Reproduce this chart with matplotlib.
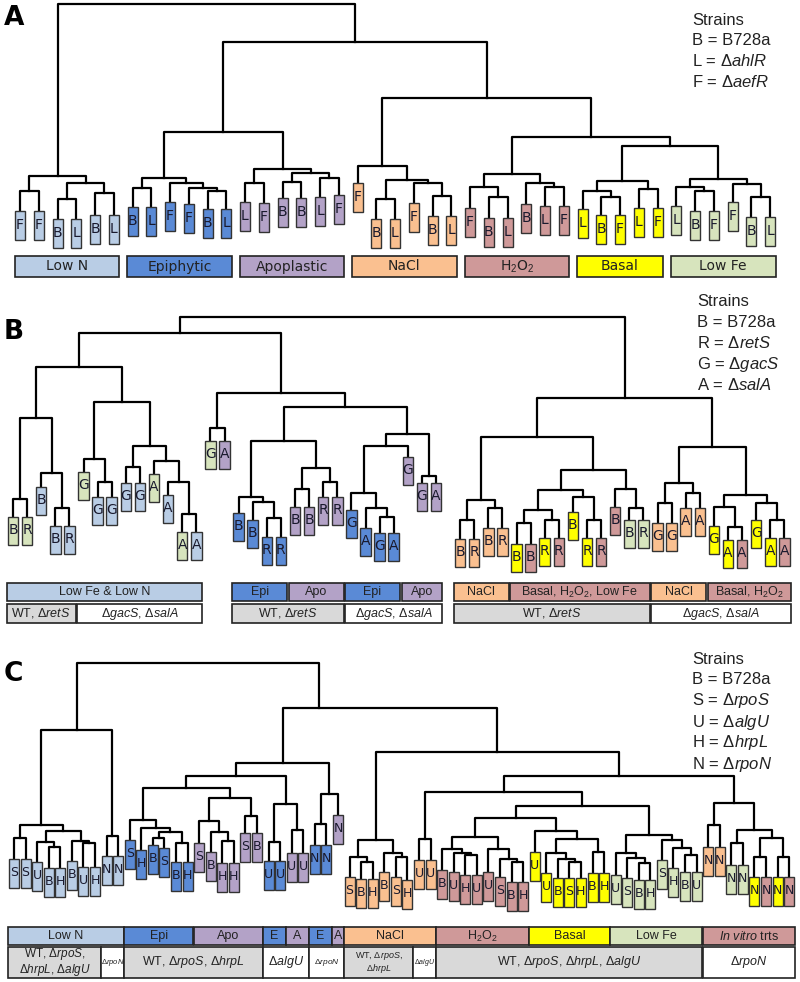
import matplotlib.pyplot as plt
from matplotlib.patches import Rectangle

plt.rcParams['mathtext.fontset'] = 'custom'
plt.rcParams['mathtext.rm'] = 'Liberation Sans'
plt.rcParams['mathtext.it'] = 'Liberation Sans:italic'

# condition colours (leaf boxes and label bars)
colors = {'n': '#B9CDE5', 'e': '#5A8AD6', 'a': '#B3A2C7', 's': '#FAC090',
          'h': '#CF9999', 'b': '#FFFF00', 'f': '#D7E4BD', 'g': '#D9D9D9', 'w': '#FFFFFF'}

# ---- panel A : node = (merge height, left, right), leaf = (strain, condition, leaf height)
a_low_n = (176, (191, ('F', 'n', 211), ('F', 'n', 211)),
           (183, (199, ('B', 'n', 219), ('L', 'n', 219)), (193, ('B', 'n', 215), ('L', 'n', 215))))
a_epi = (178, (188, ('B', 'e', 207), ('L', 'e', 207)),
         (183, ('F', 'e', 202), (188, ('F', 'e', 204), (191, ('B', 'e', 209), ('L', 'e', 209)))))
a_apo = (169, (183, ('L', 'a', 202), ('F', 'a', 203)),
         (173, (182, ('B', 'a', 198), ('B', 'a', 198)), (178, ('L', 'a', 197), ('F', 'a', 195))))
a_nacl = (166, ('F', 's', 183),
          (180, (199, ('B', 's', 219), ('L', 's', 219)),
           (183, ('F', 's', 203), (196, ('B', 's', 216), ('L', 's', 216)))))
a_h2o2 = (174, (187, ('F', 'h', 208), (197, ('B', 'h', 218), ('L', 'h', 218))),
          (183, ('B', 'h', 204), (187, ('L', 'h', 206), ('F', 'h', 206))))
a_basal = (181, (191, ('L', 'b', 209), (197, ('B', 'b', 215), ('F', 'b', 215))),
           (189, ('L', 'b', 208), ('F', 'b', 208)))
a_low_fe = (179, (187, ('L', 'f', 206), (191, ('B', 'f', 211), ('F', 'f', 211))),
            (184, ('F', 'f', 202), (197, ('B', 'f', 217), ('L', 'f', 217))))
tree_a = (4, a_low_n, (42, (132, a_epi, a_apo),
                       (98, a_nacl, (137, a_h2o2, (146, a_basal, a_low_fe)))))
a_bars = [(0, 5, 'Low N', 'n'), (6, 11, 'Epiphytic', 'e'), (12, 17, 'Apoplastic', 'a'),
          (18, 23, 'NaCl', 's'), (24, 29, 'H$_2$O$_2$', 'h'), (30, 34, 'Basal', 'b'),
          (35, 40, 'Low Fe', 'f')]
a_strains = ['Strains', 'B = B728a', r'L = $\mathit{\Delta ahlR}$', r'F = $\mathit{\Delta aefR}$']

# ---- panel B
b_fe_n = (367,
          (418, (499, ('B', 'f', 517), ('R', 'f', 517)),
           (473, ('B', 'n', 487), (508, ('B', 'n', 526), ('R', 'n', 526)))),
          (402, (459, ('G', 'f', 472), (482, ('G', 'n', 497), ('G', 'n', 497))),
           (446, (467, ('G', 'n', 483), ('G', 'n', 483)),
            (461, ('A', 'f', 474), (482, ('A', 'n', 495), (514, ('A', 'f', 532), ('A', 'n', 532)))))))
b_ga = (428, ('G', 'f', 441), ('A', 'a', 441))
b_wt_plant = (441, (497, ('B', 'e', 513), (502, ('B', 'e', 520), (518, ('R', 'e', 537), ('R', 'e', 537)))),
              (468, (489, ('B', 'a', 507), ('B', 'a', 507)), (482, ('R', 'a', 497), ('R', 'a', 497))))
b_mut_plant = (434, (446, (493, ('G', 'e', 510), (508, ('A', 'e', 528), (517, ('G', 'e', 533), ('A', 'e', 533)))),
                     ('G', 'a', 457)),
               (476, ('G', 'a', 483), ('A', 'a', 483)))
b_wt_vitro = (437, (500, (520, ('B', 's', 539), ('R', 's', 539)), (508, ('B', 's', 528), ('R', 's', 528))),
              (470, (490, (510, (523, ('B', 'b', 544), ('B', 'h', 544)), (520, ('R', 'b', 538), ('R', 'h', 538))),
                     (497, ('B', 'b', 512), (520, ('R', 'b', 538), ('R', 'h', 538)))),
               (489, ('B', 'h', 507), (508, ('B', 'f', 520), ('R', 'f', 520)))))
b_mut_vitro = (447, (483, (503, ('G', 's', 523), ('G', 's', 523)), (493, ('A', 's', 508), ('A', 's', 508))),
               (495, (507, ('G', 'b', 526), (527, ('A', 'b', 540), ('A', 'h', 540))),
                (503, ('G', 'b', 520), (520, ('A', 'b', 538), ('A', 'h', 538)))))
tree_b = (317, (333, b_fe_n, (393, b_ga, (407, b_wt_plant, b_mut_plant))),
          (398, b_wt_vitro, b_mut_vitro))
b_row1 = [(0, 13, 'Low Fe & Low N', 'n'), (16, 19, 'Epi', 'e'), (20, 23, 'Apo', 'a'),
          (24, 27, 'Epi', 'e'), (28, 30, 'Apo', 'a'), (31, 34, 'NaCl', 's'),
          (35, 44, 'Basal, H$_2$O$_2$, Low Fe', 'h'), (45, 48, 'NaCl', 's'),
          (49, 54, 'Basal, H$_2$O$_2$', 'h')]
b_wt = r'WT, $\mathit{\Delta retS}$'
b_mut = r'$\mathit{\Delta gacS}$, $\mathit{\Delta salA}$'
b_row2 = [(0, 4, b_wt, 'g'), (5, 13, b_mut, 'w'), (16, 23, b_wt, 'g'), (24, 30, b_mut, 'w'),
          (31, 44, b_wt, 'g'), (45, 54, b_mut, 'w')]
b_strains = ['Strains', 'B = B728a', r'R = $\mathit{\Delta retS}$', r'G = $\mathit{\Delta gacS}$',
             r'A = $\mathit{\Delta salA}$']

# ---- panel C
c_low_n = (825, (838, ('S', 'n', 859), ('S', 'n', 859)),
           (831, (842, ('U', 'n', 862), (847, ('B', 'n', 868), ('H', 'n', 868))),
            (841, ('B', 'n', 861), (843, ('U', 'n', 867), ('H', 'n', 867)))))
c_rpon_n = (836, ('N', 'n', 856), ('N', 'n', 856))
c_epi = (820, ('S', 'e', 840), (828, ('H', 'e', 850),
                                 (832, (838, ('B', 'e', 845), ('S', 'e', 848)),
                                  (843, ('B', 'e', 862), ('H', 'e', 862)))))
c_apo = (798, (821, ('S', 'a', 843), (832, ('B', 'a', 852), (841, ('H', 'a', 863), ('H', 'a', 863)))),
         (816, ('S', 'a', 833), ('B', 'a', 833)))
c_algu_plant = (804, (842, ('U', 'e', 861), ('U', 'e', 861)), (830, ('U', 'a', 853), ('U', 'a', 853)))
c_rpon_plant = (794, (824, ('N', 'e', 845), ('N', 'e', 845)), ('N', 'a', 815))
c_nacl = (840, (857, ('S', 's', 877), (862, ('B', 's', 879), ('H', 's', 879))),
          (853, ('B', 's', 872), (857, ('S', 's', 877), ('H', 's', 880))))
c_algu_nacl = (839, ('U', 's', 860), ('U', 's', 860))
c_h2o2 = (837, (849, ('B', 'h', 870), (853, ('U', 'h', 872), (855, ('H', 'h', 875), ('U', 'h', 875)))),
          (849, ('U', 'h', 872), (859, ('S', 'h', 877), (862, ('B', 'h', 882), ('H', 'h', 882)))))
c_basal = (831, ('U', 'b', 852),
           (839, (853, ('U', 'b', 873), (859, ('B', 'b', 878), (862, ('S', 'b', 878), ('H', 'b', 878)))),
            (852, ('B', 'b', 873), ('H', 'b', 873))))
c_low_fe = (835, (853, ('U', 'f', 875), (858, ('S', 'f', 878), (863, ('B', 'f', 880), ('H', 'f', 880)))),
            (840, ('S', 'f', 860), (848, ('H', 'f', 868), (855, ('B', 'f', 872), ('U', 'f', 872)))))
c_in_vitro = (803, (825, ('N', 's', 847), ('N', 's', 847)),
              (830, (843, ('N', 'f', 865), ('N', 'f', 865)),
               (838, (857, ('N', 'b', 877), ('N', 'h', 877)), (857, ('N', 'b', 877), ('N', 'h', 877)))))
tree_c = (663, (730, c_low_n, c_rpon_n),
          (708, (763, (776, (788, c_epi, c_apo), c_algu_plant), c_rpon_plant),
           (752, c_nacl, (776, (792, c_algu_nacl, (806, (818, c_h2o2, c_basal), c_low_fe)), c_in_vitro)),
           0.17))
c_row1 = [(0, 9, 'Low N', 'n'), (10, 15, 'Epi', 'e'), (16, 21, 'Apo', 'a'), (22, 23, 'E', 'e'),
          (24, 25, 'A', 'a'), (26, 27, 'E', 'e'), (28, 28, 'A', 'a'), (29, 36, 'NaCl', 's'),
          (37, 44, 'H$_2$O$_2$', 'h'), (45, 51, 'Basal', 'b'), (52, 59, 'Low Fe', 'f'),
          (60, 67, r'$\mathit{In\ vitro}$ trts', 'h')]
c_row2 = [(0, 7, 'WT, $\\mathit{\\Delta rpoS}$,\n$\\mathit{\\Delta hrpL}$, $\\mathit{\\Delta algU}$', 'g'),
          (8, 9, r'$\mathit{\Delta rpoN}$', 'w'),
          (10, 21, r'WT, $\mathit{\Delta rpoS}$, $\mathit{\Delta hrpL}$', 'g'),
          (22, 25, r'$\mathit{\Delta algU}$', 'w'), (26, 28, r'$\mathit{\Delta rpoN}$', 'w'),
          (29, 34, 'WT, $\\mathit{\\Delta rpoS}$,\n$\\mathit{\\Delta hrpL}$', 'g'),
          (35, 36, r'$\mathit{\Delta algU}$', 'w'),
          (37, 59, r'WT, $\mathit{\Delta rpoS}$, $\mathit{\Delta hrpL}$, $\mathit{\Delta algU}$', 'g'),
          (60, 67, r'$\mathit{\Delta rpoN}$', 'w')]
c_row2_sizes = [8.5, 5.5, 9, 9, 6, 6.5, 5, 9, 9]
c_strains = ['Strains', 'B = B728a', r'S = $\mathit{\Delta rpoS}$', r'U = $\mathit{\Delta algU}$',
             r'H = $\mathit{\Delta hrpL}$', r'N = $\mathit{\Delta rpoN}$']

fig = plt.figure(figsize=(8, 9.82), dpi=100)
ax = fig.add_axes([0, 0, 1, 1])
ax.set_xlim(0, 800)
ax.set_ylim(982, 0)
ax.axis('off')


def draw_tree(node, pos, count, box_w, box_h, fs):
    if isinstance(node[0], str):
        letter, key, top = node
        x = pos(count[0])
        count[0] += 1
        ax.add_patch(Rectangle((x - box_w / 2, top), box_w, box_h, fc=colors[key],
                               ec='#333333', lw=1.0, zorder=3))
        ax.text(x, top + box_h * 0.47, letter, ha='center', va='center', fontsize=fs,
                color='#1a1a2e', zorder=4)
        return x, top
    height, left, right = node[:3]
    lean = node[3] if len(node) > 3 else 0.5
    xl, yl = draw_tree(left, pos, count, box_w, box_h, fs)
    xr, yr = draw_tree(right, pos, count, box_w, box_h, fs)
    ax.plot([xl, xl, xr, xr], [yl, height, height, yr], color='black', lw=1.6, zorder=2)
    return xl + lean * (xr - xl), height


def draw_bars(bars, pos, pad, y0, h, fam, sizes):
    for (i0, i1, text, key), fs in zip(bars, sizes):
        x0, x1 = pos(i0) - pad, pos(i1) + pad
        ax.add_patch(Rectangle((x0, y0), x1 - x0, h, fc=colors[key], ec='#222222', lw=1.2))
        ax.text((x0 + x1) / 2, y0 + h / 2, text, ha='center', va='center',
                fontsize=fs, family=fam, color='#222222', linespacing=1.0)


def strains(lines, x, y0, step):
    for k, t in enumerate(lines):
        ax.text(x, y0 + k * step, t, ha='left', va='center', fontsize=12,
                family='Liberation Sans', color='#222222')


pos_a = lambda i: 20 + 18.75 * i
pos_b = lambda i: 13 + 14.1 * i + (10 if i >= 31 else 0)
pos_c = lambda i: 14 + 11.57 * i

draw_tree(tree_a, pos_a, [0], 10, 29, 10)
draw_bars(a_bars, pos_a, 5.5, 256, 21, 'DejaVu Sans', [10] * len(a_bars))
strains(a_strains, 692, 20, 20.7)
ax.text(4, 18, 'A', fontsize=19, fontweight='bold', va='center', ha='left')

draw_tree(tree_b, pos_b, [0], 10.5, 28, 10)
draw_bars(b_row1, pos_b, 6.2, 583, 18, 'Liberation Sans', [9] * len(b_row1))
draw_bars(b_row2, pos_b, 6.2, 604, 19, 'Liberation Sans', [9] * len(b_row2))
strains(b_strains, 697, 302, 20.7)
ax.text(4, 332, 'B', fontsize=19, fontweight='bold', va='center', ha='left')

draw_tree(tree_c, pos_c, [0], 10, 29, 9)
draw_bars(c_row1, pos_c, 5.6, 927, 18, 'Liberation Sans', [9] * len(c_row1))
draw_bars(c_row2, pos_c, 5.6, 947, 31, 'Liberation Sans', c_row2_sizes)
strains(c_strains, 692, 659, 21)
ax.text(4, 674, 'C', fontsize=19, fontweight='bold', va='center', ha='left')

fig.savefig('out.png', dpi=100)
